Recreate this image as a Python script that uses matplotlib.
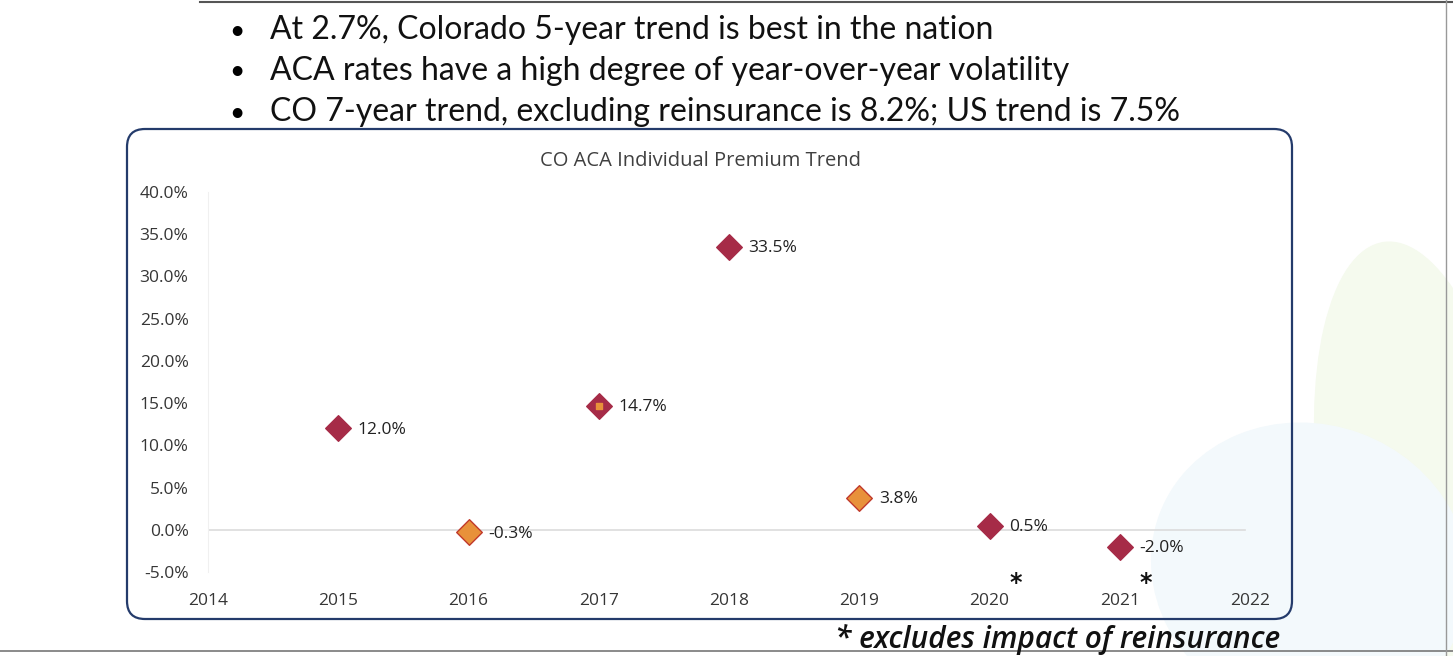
import matplotlib
matplotlib.use("Agg")
import matplotlib.pyplot as plt
from matplotlib.patches import FancyBboxPatch, Ellipse

# ----- datos -----
years = [2015, 2016, 2017, 2018, 2019, 2020, 2021]
trend = [12.0, -0.3, 14.7, 33.5, 3.8, 0.5, -2.0]
labels = ["12.0%", "-0.3%", "14.7%", "33.5%", "3.8%", "0.5%", "-2.0%"]
is_orange = [False, True, False, False, True, False, False]
starred = [2020, 2021]

bullets = [
    "At 2.7%, Colorado 5-year trend is best in the nation",
    "ACA rates have a high degree of year-over-year volatility",
    "CO 7-year trend, excluding reinsurance is 8.2%; US trend is 7.5%",
]
chart_title = "CO ACA Individual Premium Trend"
footnote = "* excludes impact of reinsurance"
y_ticks = [-5, 0, 5, 10, 15, 20, 25, 30, 35, 40]
x_ticks = list(range(2014, 2023))

RED = "#A62B47"
ORANGE = "#E8913A"
W, H = 1453, 656

fig = plt.figure(figsize=(W / 100, H / 100), dpi=100)
fig.patch.set_facecolor("white")

# fondo decorativo de la diapositiva
bg = fig.add_axes([0, 0, 1, 1], zorder=-5)
bg.set_xlim(0, W)
bg.set_ylim(H, 0)
bg.axis("off")
bg.add_patch(Ellipse((1420, 500), 200, 520, angle=-8, color="#f5faee", zorder=0))
bg.add_patch(Ellipse((1310, 570), 320, 290, angle=20, color="#f3f9fc", zorder=0))
bg.plot([200, W], [2, 2], color="#555555", lw=1.5)
bg.plot([0, W], [651, 651], color="#777777", lw=1.2)
bg.plot([1446, 1446], [0, H], color="#999999", lw=1.0)

# caja redondeada del grafico
box = FancyBboxPatch((127, 129), 1165, 490, boxstyle="round,pad=0,rounding_size=18",
                     facecolor="none", edgecolor="#243B6B", lw=1.6, zorder=2)
bg.add_patch(box)

# vinetas
for i, txt in enumerate(bullets):
    y = 30 + i * 41
    bg.text(237, y + 1, "\u2022", fontsize=19, ha="center", va="center", family="Lato")
    bg.text(270, y, txt, fontsize=23, ha="left", va="center", family="Lato",
            color="#111111")

bg.text(W / 2 - 26, 161, chart_title, fontsize=14.5, ha="center", va="center",
        family="Open Sans", color="#404040")
bg.text(1280, 639, footnote, fontsize=21.5, ha="right", va="center",
        family="Open Sans", style="italic", fontweight="semibold", color="#111111")

# ----- grafico de dispersion -----
ax = fig.add_axes([208 / W, 1 - 572 / H, (1250 - 208) / W, (572 - 192) / H])
ax.set_facecolor("none")
ax.set_xlim(2014, 2022)
ax.set_ylim(-5, 40)
ax.axhline(0, xmax=0.995, color="#dcdcdc", lw=1.2, zorder=1)
for s in ["top", "right", "bottom"]:
    ax.spines[s].set_visible(False)
ax.spines["left"].set_color("#f0f0f0")

for yr, v, lab, orng in zip(years, trend, labels, is_orange):
    face = ORANGE if orng else RED
    ax.scatter(yr, v, marker="D", s=170, color=face, edgecolor="#C0392B" if orng else RED,
               lw=1, zorder=3)
    ax.annotate(lab, (yr, v), xytext=(14, -1), textcoords="offset points",
                ha="left", va="center", fontsize=12.5, family="Open Sans", color="#222222")
    if yr == 2017:
        ax.scatter(yr, v, marker="s", s=24, color=ORANGE, zorder=4)
    if yr in starred:
        ax.annotate("*", (yr, -5), xytext=(19, -8), textcoords="offset points",
                    ha="center", va="center", fontsize=17, fontweight="bold",
                    color="#111111", annotation_clip=False)

ax.set_yticks(y_ticks)
ax.set_yticklabels([f"{t:.1f}%" for t in y_ticks])
ax.set_xticks(x_ticks)
ax.set_xticklabels([str(t) for t in x_ticks])
ax.tick_params(axis="y", length=0, pad=14, labelsize=12.5, labelcolor="#363636")
ax.tick_params(axis="x", length=0, pad=15, labelsize=12.5, labelcolor="#363636")
for t in ax.get_xticklabels() + ax.get_yticklabels():
    t.set_family("Open Sans")

fig.savefig("out.png", dpi=100)
